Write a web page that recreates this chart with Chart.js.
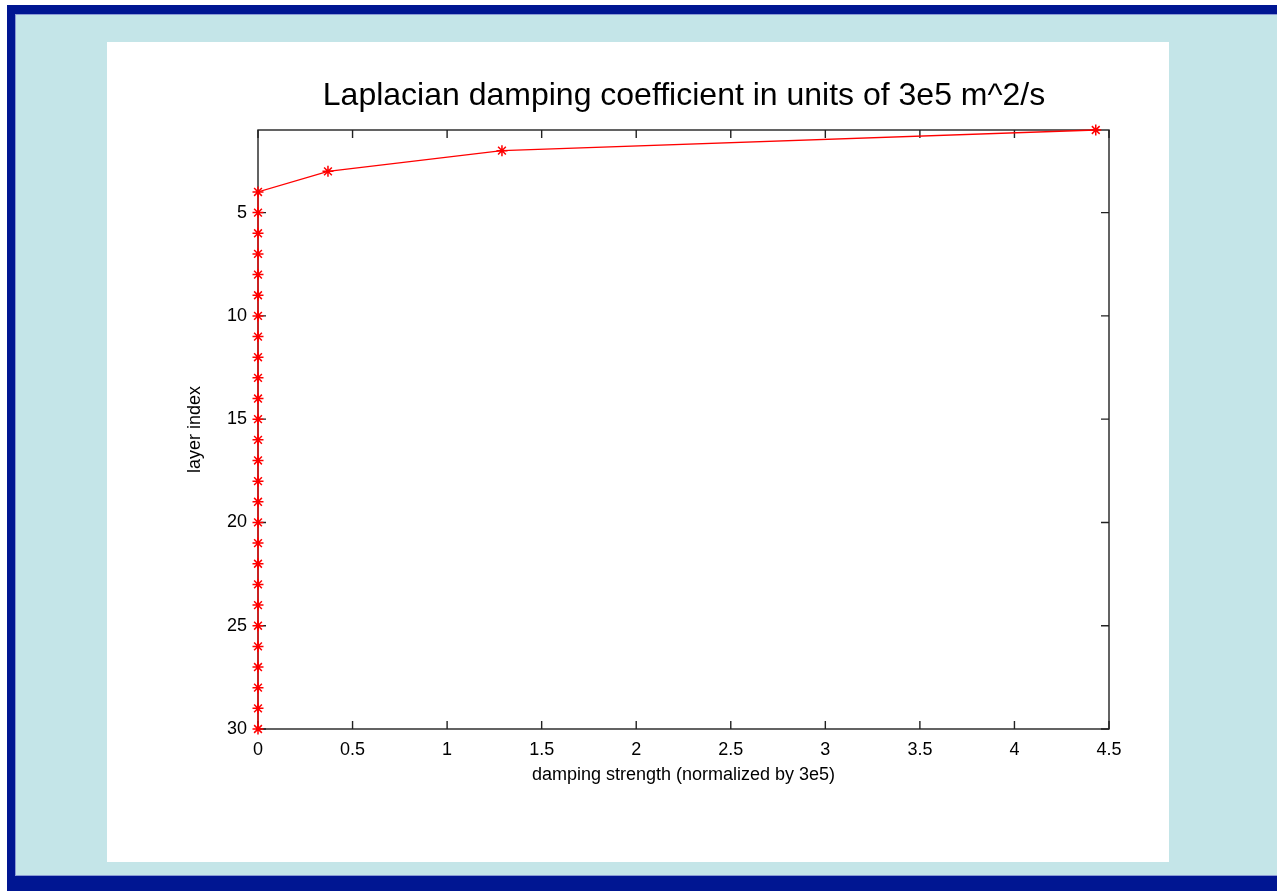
<!DOCTYPE html>
<html>
<head>
<meta charset="utf-8">
<script src="https://cdn.jsdelivr.net/npm/chart.js@4/dist/chart.umd.min.js"></script>
<style>
html,body{margin:0;padding:0;background:#fff;overflow:hidden;}
canvas{display:block;}
</style>
</head>
<body>
<canvas id="c" width="1277" height="891"></canvas>
<script>
// ---- data ----
const layerIndex = [1,2,3,4,5,6,7,8,9,10,11,12,13,14,15,16,17,18,19,20,21,22,23,24,25,26,27,28,29,30];
const dampingStrength = [4.43,1.29,0.37,0,0,0,0,0,0,0,0,0,0,0,0,0,0,0,0,0,0,0,0,0,0,0,0,0,0,0];
const xTickValues = [0,0.5,1,1.5,2,2.5,3,3.5,4,4.5];
const yTickValues = [5,10,15,20,25,30];
const titleText = 'Laplacian damping coefficient in units of 3e5 m^2/s';
const xTitle = 'damping strength (normalized by 3e5)';
const yTitle = 'layer index';

const FONT = '"Liberation Sans", Arial, Helvetica, sans-serif';
const points = layerIndex.map((y,i)=>({x: dampingStrength[i], y: y}));

const bgPlugin = {
  id: 'bg',
  beforeDraw(chart){
    const ctx = chart.ctx;
    ctx.save();
    ctx.fillStyle = '#ffffff';
    ctx.fillRect(0,0,1277,891);
    ctx.fillStyle = '#001692';
    ctx.fillRect(7,5,1277-7,891-5);
    ctx.fillStyle = '#8a9ad4';
    ctx.fillRect(15,14,1277-15,876-14);
    ctx.fillStyle = '#c4e5e8';
    ctx.fillRect(16,15,1277-16,875-15);
    ctx.fillStyle = '#ffffff';
    ctx.fillRect(107,42,1169-107,862-42);
    // title
    ctx.fillStyle = '#000';
    ctx.font = '32px ' + FONT;
    ctx.textAlign = 'center';
    ctx.textBaseline = 'middle';
    ctx.fillText(titleText, 684, 96);
    ctx.restore();
  },
  beforeDatasetsDraw(chart){
    const ctx = chart.ctx;
    const a = chart.chartArea;
    const xs = chart.scales.x, ys = chart.scales.y;
    ctx.save();
    ctx.strokeStyle = '#222';
    ctx.lineWidth = 1.4;
    ctx.strokeRect(a.left, a.top, a.right-a.left, a.bottom-a.top);
    const L = 8;
    ctx.beginPath();
    xs.ticks.forEach(t=>{
      const px = xs.getPixelForValue(t.value);
      ctx.moveTo(px, a.bottom); ctx.lineTo(px, a.bottom-L);
      ctx.moveTo(px, a.top); ctx.lineTo(px, a.top+L);
    });
    ys.ticks.forEach(t=>{
      const py = ys.getPixelForValue(t.value);
      ctx.moveTo(a.left, py); ctx.lineTo(a.left+L, py);
      ctx.moveTo(a.right, py); ctx.lineTo(a.right-L, py);
    });
    ctx.stroke();
    ctx.restore();
  }
};

new Chart(document.getElementById('c'), {
  type: 'scatter',
  data: {
    datasets: [{
      data: points,
      showLine: true,
      clip: false,
      borderColor: '#ff0000',
      backgroundColor: '#ff0000',
      borderWidth: 1.3,
      pointStyle: 'star',
      pointRadius: 5.5,
      pointBorderColor: '#ff0000',
      pointBorderWidth: 1.5,
      tension: 0
    }]
  },
  options: {
    responsive: false,
    animation: false,
    events: [],
    layout: { padding: { left: 184, right: 168, top: 130, bottom: 105 } },
    plugins: { legend: { display: false }, tooltip: { enabled: false }, title: { display: false } },
    scales: {
      x: {
        type: 'linear', min: 0, max: 4.5,
        grid: { display: false, drawTicks: false },
        border: { display: false },
        afterBuildTicks(s){ s.ticks = xTickValues.map(v=>({value:v})); },
        afterFit(s){ s.height = 57; },
        ticks: { color: '#000', padding: 10, maxRotation: 0, autoSkip: false, font: { family: FONT, size: 18 },
                 callback: v => String(v) },
        title: { display: true, text: xTitle, color: '#000', padding: 0, font: { family: FONT, size: 18 } }
      },
      y: {
        type: 'linear', min: 1, max: 30, reverse: true,
        grid: { display: false, drawTicks: false },
        border: { display: false },
        afterBuildTicks(s){ s.ticks = yTickValues.map(v=>({value:v})); },
        afterFit(s){ s.width = 74; },
        ticks: { color: '#000', padding: 11, autoSkip: false, font: { family: FONT, size: 18 },
                 callback: v => String(v) },
        title: { display: true, text: yTitle, color: '#000', padding: 0, font: { family: FONT, size: 18 } }
      }
    }
  },
  plugins: [bgPlugin]
});
</script>
</body>
</html>
